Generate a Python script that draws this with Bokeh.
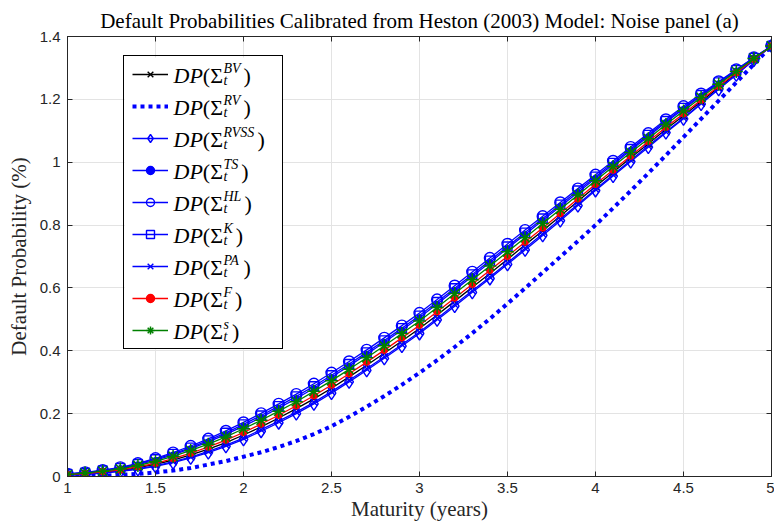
from bokeh.plotting import figure
from bokeh.models import Range1d, FixedTicker, Legend, LegendItem, Label, BoxAnnotation, LinearAxis
from bokeh.embed import file_html
from bokeh.resources import INLINE

# ---------------- data ----------------
maturity = [1.0, 1.1, 1.2, 1.3, 1.4, 1.5, 1.6, 1.7, 1.8, 1.9,
            2.0, 2.1, 2.2, 2.3, 2.4, 2.5, 2.6, 2.7, 2.8, 2.9,
            3.0, 3.1, 3.2, 3.3, 3.4, 3.5, 3.6, 3.7, 3.8, 3.9,
            4.0, 4.1, 4.2, 4.3, 4.4, 4.5, 4.6, 4.7, 4.8, 4.9, 5.0]

dp_bv = [0.005, 0.009, 0.013, 0.019, 0.028, 0.039, 0.052, 0.069, 0.087, 0.108,
         0.132, 0.158, 0.186, 0.216, 0.247, 0.281, 0.317, 0.354, 0.392, 0.431,
         0.471, 0.514, 0.558, 0.602, 0.646, 0.691, 0.737, 0.782, 0.829, 0.876,
         0.923, 0.968, 1.014, 1.059, 1.105, 1.148, 1.193, 1.238, 1.282, 1.327, 1.370]
dp_rv = [0.001, 0.002, 0.003, 0.005, 0.008, 0.013, 0.019, 0.027, 0.038, 0.049,
         0.063, 0.077, 0.094, 0.113, 0.135, 0.160, 0.190, 0.222, 0.256, 0.292,
         0.330, 0.370, 0.412, 0.456, 0.502, 0.550, 0.599, 0.649, 0.699, 0.749,
         0.800, 0.854, 0.909, 0.965, 1.022, 1.080, 1.138, 1.196, 1.254, 1.312, 1.370]
dp_rvss = [0.004, 0.007, 0.011, 0.016, 0.023, 0.032, 0.044, 0.059, 0.076, 0.096,
           0.118, 0.144, 0.171, 0.200, 0.231, 0.265, 0.301, 0.338, 0.376, 0.415,
           0.455, 0.498, 0.542, 0.586, 0.630, 0.675, 0.721, 0.767, 0.814, 0.862,
           0.910, 0.956, 1.002, 1.048, 1.094, 1.138, 1.185, 1.232, 1.278, 1.325, 1.370]
dp_ts = [0.007, 0.012, 0.018, 0.026, 0.038, 0.052, 0.069, 0.089, 0.110, 0.134,
         0.160, 0.188, 0.218, 0.248, 0.281, 0.316, 0.352, 0.389, 0.427, 0.466,
         0.506, 0.549, 0.593, 0.637, 0.681, 0.726, 0.770, 0.815, 0.859, 0.904,
         0.949, 0.993, 1.038, 1.082, 1.127, 1.169, 1.211, 1.251, 1.291, 1.331, 1.370]
dp_hl = [0.008, 0.013, 0.020, 0.029, 0.042, 0.058, 0.076, 0.097, 0.120, 0.145,
         0.172, 0.201, 0.231, 0.262, 0.295, 0.330, 0.366, 0.403, 0.441, 0.480,
         0.520, 0.563, 0.607, 0.651, 0.695, 0.740, 0.784, 0.828, 0.872, 0.916,
         0.960, 1.004, 1.048, 1.092, 1.136, 1.178, 1.218, 1.257, 1.295, 1.333, 1.370]
dp_k = [0.008, 0.012, 0.019, 0.027, 0.040, 0.055, 0.072, 0.092, 0.115, 0.139,
        0.166, 0.194, 0.224, 0.255, 0.287, 0.322, 0.358, 0.395, 0.433, 0.472,
        0.512, 0.555, 0.599, 0.643, 0.687, 0.732, 0.776, 0.821, 0.865, 0.910,
        0.954, 0.998, 1.042, 1.087, 1.131, 1.173, 1.214, 1.254, 1.293, 1.332, 1.370]
dp_pa = [0.004, 0.008, 0.012, 0.017, 0.025, 0.034, 0.047, 0.062, 0.080, 0.100,
         0.122, 0.149, 0.176, 0.205, 0.236, 0.270, 0.306, 0.343, 0.381, 0.420,
         0.460, 0.503, 0.547, 0.591, 0.635, 0.680, 0.726, 0.772, 0.819, 0.866,
         0.914, 0.960, 1.006, 1.052, 1.097, 1.141, 1.188, 1.234, 1.279, 1.326, 1.370]
dp_f = [0.006, 0.009, 0.015, 0.021, 0.031, 0.042, 0.057, 0.074, 0.094, 0.116,
        0.140, 0.167, 0.195, 0.225, 0.257, 0.291, 0.327, 0.364, 0.402, 0.441,
        0.481, 0.524, 0.568, 0.612, 0.656, 0.701, 0.746, 0.791, 0.837, 0.884,
        0.930, 0.975, 1.020, 1.066, 1.111, 1.154, 1.198, 1.242, 1.285, 1.328, 1.370]
dp_s = [0.006, 0.011, 0.017, 0.024, 0.035, 0.048, 0.064, 0.083, 0.103, 0.126,
        0.152, 0.179, 0.208, 0.238, 0.271, 0.305, 0.341, 0.378, 0.416, 0.455,
        0.495, 0.538, 0.582, 0.626, 0.670, 0.715, 0.760, 0.805, 0.850, 0.896,
        0.941, 0.986, 1.031, 1.075, 1.120, 1.163, 1.206, 1.248, 1.289, 1.330, 1.370]

series_keys = ["BV", "RV", "RVSS", "TS", "HL", "K", "PA", "F", "s"]
x_ticks = [1, 1.5, 2, 2.5, 3, 3.5, 4, 4.5, 5]
x_tick_labels = ["1", "1.5", "2", "2.5", "3", "3.5", "4", "4.5", "5"]
y_ticks = [0, 0.2, 0.4, 0.6, 0.8, 1.0, 1.2, 1.4]
y_tick_labels = ["0", "0.2", "0.4", "0.6", "0.8", "1", "1.2", "1.4"]

title_text = "Default Probabilities Calibrated from Heston (2003) Model: Noise panel (a)"
x_label = "Maturity (years)"
y_label = "Default Probability (%)"

# ---------------- layout ----------------
W, H = 774, 526
BL, BR, BT, BB = 67, 3, 36, 50
FW, FH = W - BL - BR, H - BT - BB
X0, X1, Y0, Y1 = 1, 5, 0, 1.4

SERIF = "Liberation Serif"
SANS = "Liberation Sans"
AX = "#262626"

p = figure(width=W, height=H, output_backend="svg", toolbar_location=None,
           x_range=Range1d(X0, X1), y_range=Range1d(Y0, Y1),
           min_border_left=BL, min_border_right=BR, min_border_top=BT, min_border_bottom=BB,
           background_fill_color="white", border_fill_color="white")

p.title.text = title_text
p.title.text_font = SERIF
p.title.text_font_size = "21px"
p.title.text_font_style = "normal"
p.title.text_color = "black"
p.title.align = "center"
p.title.standoff = 8

p.xaxis.ticker = FixedTicker(ticks=x_ticks)
p.yaxis.ticker = FixedTicker(ticks=y_ticks)
p.xaxis.major_label_overrides = dict(zip(x_ticks, x_tick_labels))
p.yaxis.major_label_overrides = dict(zip(y_ticks, y_tick_labels))
p.xaxis.axis_label = x_label
p.yaxis.axis_label = y_label
for ax in (p.xaxis[0], p.yaxis[0]):
    ax.axis_label_text_font = SERIF
    ax.axis_label_text_font_size = "21px"
    ax.axis_label_text_font_style = "normal"
    ax.axis_label_text_color = AX
    ax.major_label_text_font = SANS
    ax.major_label_text_font_size = "15px"
    ax.major_label_text_color = AX
    ax.axis_line_color = AX
    ax.major_tick_line_color = AX
    ax.major_tick_in = 5
    ax.major_tick_out = 0
    ax.minor_tick_line_color = None
p.xaxis.major_label_standoff = 6
p.xaxis.axis_label_standoff = 1
p.yaxis.major_label_standoff = 7
p.yaxis.axis_label_standoff = 6

p.grid.grid_line_color = "#e3e3e3"
p.grid.grid_line_width = 1
p.outline_line_color = AX
p.outline_line_width = 1
p.outline_line_alpha = 1

BLUE, RED, GREEN, BLACK = "#0000ff", "#ff0000", "#008000", "#000000"
LW = 1.3
items = []


def add(yvals, color, marker=None, size=9, filled=False, dash="solid", lw=LW, mlw=1.4):
    rs = [p.line(maturity, yvals, line_color=color, line_width=lw, line_dash=dash)]
    if marker is not None:
        rs.append(p.scatter(maturity, yvals, marker=marker, size=size,
                            line_color=color, line_width=mlw,
                            fill_color=color if filled else None,
                            fill_alpha=1 if filled else 0))
    items.append(LegendItem(label=" ", renderers=rs))


add(dp_bv, BLACK, "x", 10)
add(dp_rv, BLUE, None, dash="4 4", lw=4)
add(dp_rvss, BLUE, "diamond", 13)
add(dp_ts, BLUE, "circle", 5, filled=True)
add(dp_hl, BLUE, "circle", 11)
add(dp_k, BLUE, "square", 9)
add(dp_pa, BLUE, "x", 10)
add(dp_f, RED, "circle", 6, filled=True)
add(dp_s, GREEN, "asterisk", 13, mlw=1.5)

# ---------------- legend ----------------
PAD, GW, GH, SP, STAND, LBLW = 8, 36, 20, 12, 4, 102
LEG_X, LEG_Y = 56, 127
n = len(series_keys)
leg_w = 2 * PAD + GW + STAND + LBLW
leg_h = 2 * PAD + n * GH + (n - 1) * SP


def dx(px):
    return X0 + px * (X1 - X0) / FW


def dy(px):
    return Y0 + px * (Y1 - Y0) / FH


# white backing of the legend box (hides the grid lines)
p.add_layout(BoxAnnotation(left=dx(LEG_X + 1), right=dx(LEG_X + leg_w + 1),
                           bottom=dy(LEG_Y), top=dy(LEG_Y + leg_h),
                           fill_color="white", fill_alpha=1, line_color=None,
                           level="annotation"))

legend = Legend(items=items, location=(LEG_X, LEG_Y), orientation="vertical",
                padding=PAD, spacing=SP, margin=0,
                glyph_width=GW, glyph_height=GH, label_height=GH, label_width=LBLW,
                label_standoff=STAND, label_text_font_size="12px",
                border_line_color=BLACK, border_line_width=1, border_line_alpha=1,
                background_fill_alpha=0)
p.add_layout(legend)

row0 = LEG_Y + leg_h - PAD - GH / 2
tx = LEG_X + PAD + GW + STAND + 2
MAIN, SUB = 22, 14
sup_w = {"B": .611, "V": .611, "R": .611, "S": .5, "T": .556, "H": .722, "L": .556,
         "K": .667, "P": .611, "A": .611, "F": .611, "s": .389}


def lab(text, xpx, ypx, size, style):
    p.add_layout(Label(x=dx(xpx), y=dy(ypx), text=text, text_font=SERIF,
                       text_font_size=f"{size}px", text_font_style=style,
                       text_color=BLACK, text_baseline="alphabetic", text_align="left",
                       level="overlay"))


for i, key in enumerate(series_keys):
    cy = row0 - i * (GH + SP) + 7
    base = cy - 7
    lab("DP", tx, base, MAIN, "italic")
    lab("(\u03a3", tx + 29.3, base, MAIN, "normal")
    sx = tx + 50
    lab("t", sx, base - 4.5, SUB, "italic")
    lab(key, sx, cy + 0.5, SUB, "italic")
    w = sum(sup_w[c] for c in key) * SUB
    lab(")", sx + w + 3, base, MAIN, "normal")

# box ticks on the top and right sides
top_ax = LinearAxis(ticker=FixedTicker(ticks=x_ticks),
                    major_label_overrides={t: "" for t in x_ticks})
right_ax = LinearAxis(ticker=FixedTicker(ticks=y_ticks),
                      major_label_overrides={t: "" for t in y_ticks})
for ax in (top_ax, right_ax):
    ax.major_label_text_font_size = "0px"
    ax.major_label_standoff = 0
    ax.axis_line_color = AX
    ax.major_tick_line_color = AX
    ax.major_tick_in = 5
    ax.major_tick_out = 0
    ax.minor_tick_line_color = None
p.add_layout(top_ax, "above")
p.add_layout(right_ax, "right")

open("out.html", "w").write(file_html(p, INLINE))
